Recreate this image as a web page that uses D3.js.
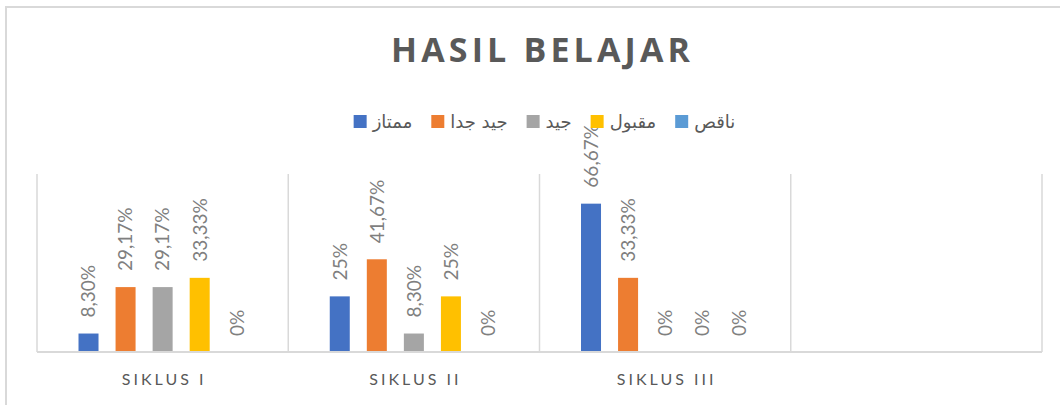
<!DOCTYPE html>
<html>
<head>
    <meta charset="utf-8">
    <title>Hasil Belajar</title>
    <script src="https://d3js.org/d3.v7.min.js"></script>
    <style>
        body {
            margin: 0;
            background: #fff;
        }
        .title {
            font-family: "Open Sans", sans-serif;
            font-weight: bold;
            font-size: 34px;
            fill: #595959;
        }
        .cat-label {
            font-family: Lato, sans-serif;
            font-size: 16px;
            fill: #595959;
            letter-spacing: 3px;
        }
        .value-label {
            font-family: Lato, sans-serif;
            font-size: 19px;
            fill: #7f7f7f;
        }
        .legend-text {
            font-family: "DejaVu Sans", sans-serif;
            font-size: 18px;
            fill: #595959;
        }
    </style>
</head>
<body>
    <div id="chart"></div>

    <script>
        // chart data
        const categories = ["SIKLUS I", "SIKLUS II", "SIKLUS III", ""];
        const seriesNames = ["ممتاز", "جيد جدا", "جيد", "مقبول", "ناقص"];
        const seriesColors = ["#4472c4", "#ed7d31", "#a5a5a5", "#ffc000", "#5b9bd5"];
        const mumtaz = [8.30, 25, 66.67, null];
        const jayyidJiddan = [29.17, 41.67, 33.33, null];
        const jayyid = [29.17, 8.30, 0, null];
        const maqbul = [33.33, 25, 0, null];
        const naqis = [0, 0, 0, null];
        const seriesValues = [mumtaz, jayyidJiddan, jayyid, maqbul, naqis];

        const width = 1060;
        const height = 405;
        const plot = { left: 37, right: 1042, top: 174, bottom: 352 };

        const svg = d3.select("#chart").append("svg")
            .attr("width", width)
            .attr("height", height);

        // chart frame (runs off the right and bottom edge)
        svg.append("rect")
            .attr("x", 6).attr("y", 7)
            .attr("width", 1100).attr("height", 450)
            .attr("fill", "#fff")
            .attr("stroke", "#d9d9d9")
            .attr("stroke-width", 2);

        // title, stretched to its width in the picture
        svg.append("text")
            .attr("class", "title")
            .attr("x", 391).attr("y", 62)
            .attr("textLength", 299)
            .attr("lengthAdjust", "spacing")
            .text("HASIL BELAJAR");

        // scales
        const x0 = d3.scaleBand()
            .domain(d3.range(categories.length))
            .range([plot.left, plot.right]);

        const x1 = d3.scaleBand()
            .domain(d3.range(seriesNames.length))
            .range([0, x0.bandwidth()])
            .paddingInner(0.46)
            .paddingOuter(1.12);

        const y = d3.scaleLinear()
            .domain([0, 80])
            .range([plot.bottom, plot.top]);

        // vertical category separators
        svg.append("g")
            .selectAll("line")
            .data(d3.range(categories.length + 1))
            .join("line")
            .attr("x1", i => i < categories.length ? x0(i) : plot.right)
            .attr("x2", i => i < categories.length ? x0(i) : plot.right)
            .attr("y1", plot.top)
            .attr("y2", plot.bottom)
            .attr("stroke", "#d9d9d9")
            .attr("stroke-width", 1.5);

        // bars
        const rows = [];
        seriesValues.forEach((vals, s) => {
            vals.forEach((v, c) => {
                if (v !== null) rows.push({ s: s, c: c, v: v });
            });
        });

        svg.append("g")
            .selectAll("rect")
            .data(rows.filter(d => d.v > 0))
            .join("rect")
            .attr("x", d => x0(d.c) + x1(d.s))
            .attr("y", d => y(d.v))
            .attr("width", x1.bandwidth())
            .attr("height", d => y(0) - y(d.v))
            .attr("fill", d => seriesColors[d.s]);

        // baseline
        svg.append("line")
            .attr("x1", plot.left).attr("x2", plot.right)
            .attr("y1", plot.bottom).attr("y2", plot.bottom)
            .attr("stroke", "#d9d9d9")
            .attr("stroke-width", 2);

        // value labels, rotated
        const fmt = v => (Number.isInteger(v) ? String(v) : v.toFixed(2).replace(".", ",")) + "%";

        svg.append("g")
            .selectAll("text")
            .data(rows)
            .join("text")
            .attr("class", "value-label")
            .attr("transform", d => {
                const cx = x0(d.c) + x1(d.s) + x1.bandwidth() / 2;
                return `translate(${cx},${y(d.v) - 16}) rotate(-90)`;
            })
            .attr("dy", "0.36em")
            .text(d => fmt(d.v));

        // category labels
        svg.append("g")
            .selectAll("text")
            .data(categories)
            .join("text")
            .attr("class", "cat-label")
            .attr("x", (d, i) => x0(i) + x0.bandwidth() / 2 + 1.5)
            .attr("y", 385)
            .attr("text-anchor", "middle")
            .text(d => d);

        // legend
        const legend = svg.append("g");
        const items = legend.selectAll("g")
            .data(seriesNames)
            .join("g");

        items.append("rect")
            .attr("width", 13).attr("height", 13)
            .attr("y", 115)
            .attr("fill", (d, i) => seriesColors[i]);

        items.append("text")
            .attr("class", "legend-text")
            .attr("y", 128)
            .text(d => d);

        let cursor = 0;
        items.each(function() {
            const g = d3.select(this);
            const w = g.select("text").node().getComputedTextLength();
            g.select("rect").attr("x", cursor);
            g.select("text").attr("x", cursor + 19);
            cursor += 19 + w + 19;
        });
        const total = cursor - 19;
        legend.attr("transform", `translate(${544.5 - total / 2},0)`);
    </script>
</body>
</html>
